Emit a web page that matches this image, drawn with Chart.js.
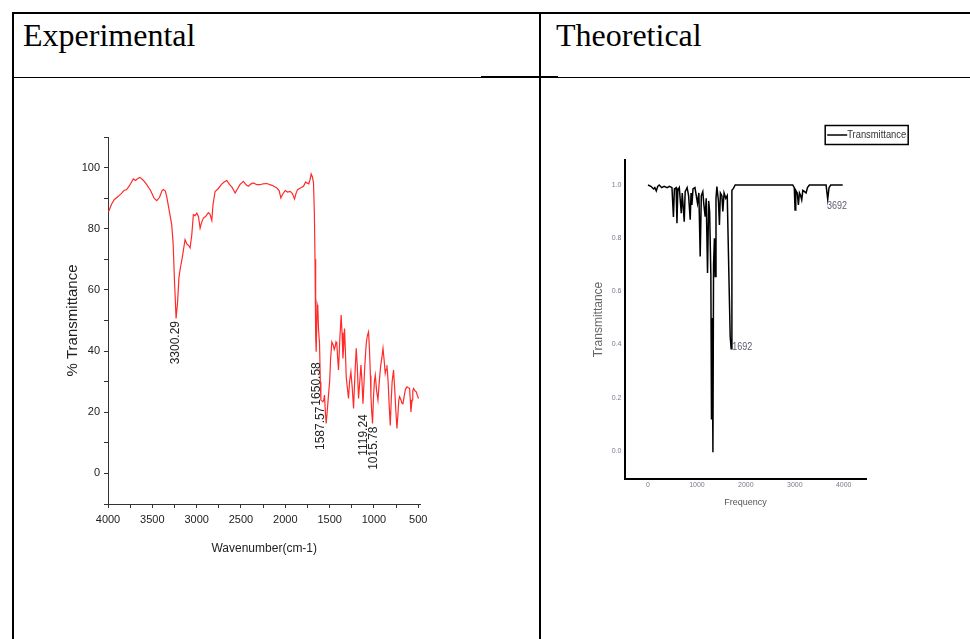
<!DOCTYPE html>
<html>
<head>
<meta charset="utf-8">
<script src="https://cdn.jsdelivr.net/npm/chart.js@4.4.1/dist/chart.umd.min.js"></script>
<style>
  body { margin: 0; background: #fff; width: 970px; height: 639px; position: relative; overflow: hidden; }
  .ln { position: absolute; background: #000; }
  .head { position: absolute; font-family: 'Liberation Serif', 'Times New Roman', serif; font-size: 32px; line-height: 32px; color: #000; }
  canvas { position: absolute; }
</style>
</head>
<body>
<!-- table lines -->
<div class="ln" style="left:12px;top:12px;width:958px;height:2px"></div>
<div class="ln" style="left:12px;top:12px;width:2px;height:627px"></div>
<div class="ln" style="left:539px;top:12px;width:2px;height:627px"></div>
<div class="ln" style="left:12px;top:77px;width:958px;height:1px"></div>
<div class="ln" style="left:481px;top:76px;width:77px;height:2px"></div>

<div class="head" style="left:23px;top:19px">Experimental</div>
<div class="head" style="left:556px;top:19px">Theoretical</div>

<canvas id="chart1" width="400" height="470" style="left:40px;top:110px"></canvas>
<canvas id="chart2" width="400" height="420" style="left:560px;top:115px"></canvas>

<script>
// experimental IR spectrum (wavenumber, % transmittance)
const expWn = [3995, 3960, 3930, 3884, 3850, 3820, 3789, 3760, 3714, 3690, 3660, 3639, 3600, 3563, 3520, 3480, 3450, 3420, 3390, 3376,
  3355, 3338, 3310, 3281, 3265, 3250, 3232, 3215, 3200, 3187, 3160, 3131, 3110, 3090, 3074, 3055, 3037, 3018, 2998, 2980,
  2961, 2945, 2924, 2900, 2868, 2850, 2829, 2815, 2792, 2760, 2720, 2690, 2660, 2630, 2600, 2566, 2540, 2510, 2472, 2440,
  2416, 2390, 2360, 2320, 2284, 2250, 2208, 2150, 2095, 2070, 2050, 2030, 2001, 1975, 1945, 1920, 1896, 1880, 1862, 1830,
  1795, 1770, 1757, 1735, 1720, 1708, 1695, 1682, 1672, 1665, 1660, 1655, 1652, 1640, 1633, 1625, 1614, 1605, 1599, 1590,
  1576, 1566, 1558, 1548, 1539, 1528, 1513, 1500, 1488, 1475, 1460, 1448, 1438, 1428, 1419, 1410, 1400, 1385, 1370, 1360,
  1350, 1340, 1332, 1322, 1313, 1300, 1287, 1275, 1260, 1245, 1230, 1215, 1200, 1188, 1174, 1160, 1147, 1135, 1124, 1115,
  1106, 1095, 1087, 1075, 1061, 1050, 1040, 1034, 1025, 1016, 1005, 995, 985, 970, 955, 940, 925, 910, 898, 885,
  873, 864, 854, 840, 828, 816, 805, 795, 779, 765, 752, 741, 730, 720, 711, 695, 685, 673, 660, 645,
  628, 612, 598, 590, 583, 570, 562, 553, 538, 523, 510, 497];
const expT = [85.5, 88, 89.5, 90.6, 91.5, 92.5, 92.8, 94, 96.3, 95.8, 96.5, 96.8, 95.8, 94.4, 92.5, 90, 89.2, 90.2, 92.5, 92.8,
  92.4, 90.6, 86, 81.3, 75, 63, 50.7, 56, 64, 66.6, 71, 76.4, 75, 74.5, 73.7, 78, 84.6, 84.3, 85.1, 84,
  80.2, 82, 83.5, 84, 85.3, 84.8, 82.7, 88, 92.2, 93, 94.5, 95.3, 95.8, 94.5, 93.5, 91.7, 93, 94.5, 95.5, 94.3,
  93.9, 94.6, 95, 94.4, 94.4, 94.7, 94.8, 94.2, 93.3, 92.5, 90.1, 91.3, 92.5, 92, 92.2, 91.5, 89.7, 91.5, 92.8, 93.3,
  93.9, 95.3, 95, 94.7, 96.2, 97.9, 97, 95, 85, 70, 57, 45, 39.8, 55.1, 54, 47, 42.5, 30, 24, 23.8,
  23.4, 24, 25.6, 20, 16.3, 20, 25.6, 30, 38, 43, 42, 40.5, 41.4, 43, 42.5, 38, 33.8, 44, 51.8, 46,
  37.6, 42, 47.4, 40, 31.6, 28, 24.5, 30, 33.2, 28, 21.2, 32, 40.9, 35, 24.5, 30, 35.4, 30, 22.8, 28,
  33.8, 39, 42.5, 45, 46.3, 40, 32, 25.1, 20, 16.3, 25, 30, 32.1, 27, 24, 30, 35, 38, 40.9, 37,
  32.7, 34, 35.4, 30, 22, 15.7, 24, 30, 33.8, 27, 20, 14.7, 19, 24, 25.1, 24, 23, 22.8, 25, 27.5,
  28.3, 28, 27.8, 24, 20.1, 24, 27, 27.8, 27, 26.7, 25.5, 24.5];
const expPeakText = ['3300.29', '1650.58', '1587.57', '1119.24', '1015.78'];
const expPeakWn = [3232, 1643, 1599, 1121, 1005];
const expPeakT = [50.5, 37, 22.5, 20, 16];
const expXTicks = [4000, 3750, 3500, 3250, 3000, 2750, 2500, 2250, 2000, 1750, 1500, 1250, 1000, 750, 500];
const expXLabels = [4000, 3500, 3000, 2500, 2000, 1500, 1000, 500];
const expYTicks = [-10, 0, 10, 20, 30, 40, 50, 60, 70, 80, 90, 100, 110];
const expYLabels = [0, 20, 40, 60, 80, 100];

// theoretical (computed) spectrum (frequency, transmittance)
const thFreq = [0, 60, 115, 140, 170, 200, 230, 280, 330, 390, 440, 490, 520, 540, 575, 592, 610, 640, 680, 700,
  741, 760, 800, 830, 863, 880, 898, 920, 960, 1012, 1040, 1067, 1090, 1120, 1140, 1169, 1190, 1217, 1240, 1260,
  1285, 1298, 1312, 1327, 1340, 1358, 1373, 1390, 1408, 1440, 1460, 1480, 1510, 1530, 1555, 1590, 1620, 1659, 1680, 1700,
  1715, 1747, 1782, 2959, 2990, 3006, 3020, 3050, 3074, 3095, 3120, 3142, 3165, 3200, 3231, 3260, 3299, 3640, 3673, 3700,
  3735, 3980];
const thT = [1.0, 0.995, 0.985, 0.99, 0.978, 0.995, 1.0, 0.99, 0.995, 0.99, 0.995, 0.99, 0.88, 0.985, 0.99, 0.856, 0.98, 0.99, 0.894, 0.97,
  0.862, 0.975, 0.99, 0.96, 0.869, 0.97, 0.925, 0.985, 0.99, 0.931, 0.97, 0.731, 0.96, 0.975, 0.93, 0.881, 0.95, 0.669, 0.94, 0.9,
  0.66, 0.118, 0.5, -0.005, 0.7, 0.8, 0.656, 0.95, 0.994, 0.94, 0.85, 0.97, 0.96, 0.9, 0.97, 0.95, 0.96, 0.612, 0.43, 0.384,
  0.98, 0.987, 1.0, 1.0, 0.99, 0.906, 0.98, 0.97, 0.925, 0.97, 0.96, 0.944, 0.98, 0.975, 0.97, 0.99, 1.0, 1.0, 0.946, 0.99,
  1.0, 1.0];
const thPeakText = ['1692', '3692'];
const thPeakF = [1700, 3640];
const thPeakT = [0.39, 0.92];
const thXTicks = [0, 1000, 2000, 3000, 4000];
const thYTicks = [0, 0.2, 0.4, 0.6, 0.8, 1.0];

const sans = "'Liberation Sans', Arial, sans-serif";
Chart.defaults.font.family = sans;
Chart.defaults.color = '#222';

// rotated peak labels on the experimental spectrum
const expPeakPlugin = {
  id: 'expPeaks',
  afterDatasetsDraw(chart) {
    const ctx = chart.ctx;
    const xs = chart.scales.x, ys = chart.scales.y;
    ctx.save();
    ctx.font = '12px ' + sans;
    ctx.fillStyle = '#222';
    ctx.textAlign = 'right';
    ctx.textBaseline = 'middle';
    expPeakText.forEach(function(t, i) {
      ctx.save();
      ctx.translate(xs.getPixelForValue(expPeakWn[i]), ys.getPixelForValue(expPeakT[i]) + 2);
      ctx.rotate(-Math.PI / 2);
      ctx.fillText(t, 0, 0);
      ctx.restore();
    });
    ctx.restore();
  }
};

// peak labels and boxed legend on the theoretical spectrum
const thExtrasPlugin = {
  id: 'thExtras',
  afterDatasetsDraw(chart) {
    const ctx = chart.ctx;
    const xs = chart.scales.x, ys = chart.scales.y;
    ctx.save();
    ctx.font = '11px ' + sans;
    ctx.fillStyle = '#5a5a70';
    ctx.textAlign = 'left';
    ctx.textBaseline = 'middle';
    thPeakText.forEach(function(t, i) {
      ctx.fillText(t, xs.getPixelForValue(thPeakF[i]) + 1, ys.getPixelForValue(thPeakT[i]), 20);
    });
    // legend
    const lx = chart.chartArea.right - 41.5, ly = 10.5;
    ctx.strokeStyle = '#000';
    ctx.lineWidth = 1.5;
    ctx.strokeRect(lx, ly, 83, 19);
    ctx.beginPath();
    ctx.moveTo(lx + 2, ly + 9.5);
    ctx.lineTo(lx + 22, ly + 9.5);
    ctx.stroke();
    ctx.fillStyle = '#333';
    ctx.font = '11px ' + sans;
    ctx.fillText(chart.data.datasets[0].label, lx + 22, ly + 9.5, 59);
    ctx.restore();
  }
};

new Chart(document.getElementById('chart1'), {
  type: 'line',
  data: {
    datasets: [{
      label: '% Transmittance',
      data: expWn.map(function(w, i) { return {x: w, y: expT[i]}; }),
      borderColor: '#ff2a2a',
      borderWidth: 1.2,
      pointRadius: 0,
      tension: 0
    }]
  },
  options: {
    responsive: false,
    animation: false,
    layout: { padding: {left: 0, top: 27, right: 19.5, bottom: 0} },
    plugins: { legend: {display: false}, tooltip: {enabled: false} },
    scales: {
      x: {
        type: 'linear',
        reverse: true,
        min: 475,
        max: 4000,
        afterBuildTicks: function(s) { s.ticks = expXTicks.map(function(v) { return {value: v}; }); },
        afterFit: function(s) { s.height = 76; },
        grid: {display: true, drawOnChartArea: false, tickLength: 4, tickColor: '#333'},
        border: {display: true, color: '#333', width: 1},
        ticks: {
          font: {size: 11},
          color: '#222',
          padding: 5,
          maxRotation: 0,
          autoSkip: false,
          callback: function(v) { return expXLabels.includes(v) ? String(v) : ''; }
        },
        title: {display: true, text: 'Wavenumber(cm-1)', font: {size: 12}, color: '#222', padding: {top: 0, bottom: 24}}
      },
      y: {
        min: -10,
        max: 110,
        afterBuildTicks: function(s) { s.ticks = expYTicks.map(function(v) { return {value: v}; }); },
        afterFit: function(s) { s.width = 68; },
        grid: {display: true, drawOnChartArea: false, tickLength: 4, tickColor: '#333'},
        border: {display: true, color: '#333', width: 1},
        ticks: {
          font: {size: 11},
          color: '#222',
          padding: 4,
          autoSkip: false,
          callback: function(v) { return expYLabels.includes(v) ? String(v) : ''; }
        },
        title: {display: true, text: '% Transmittance', font: {size: 15}, color: '#222', padding: {top: 24, bottom: 0}}
      }
    }
  },
  plugins: [expPeakPlugin]
});

new Chart(document.getElementById('chart2'), {
  type: 'line',
  data: {
    datasets: [{
      label: 'Transmittance',
      data: thFreq.map(function(f, i) { return {x: f, y: thT[i]}; }),
      borderColor: '#000',
      borderWidth: 1.5,
      pointRadius: 0,
      tension: 0
    }]
  },
  options: {
    responsive: false,
    animation: false,
    layout: { padding: {left: 0, top: 45, right: 93.3, bottom: 0} },
    plugins: { legend: {display: false}, tooltip: {enabled: false} },
    scales: {
      x: {
        type: 'linear',
        min: -480,
        max: 4470,
        afterBuildTicks: function(s) { s.ticks = thXTicks.map(function(v) { return {value: v}; }); },
        afterFit: function(s) { s.height = 56; },
        grid: {display: false, drawTicks: false},
        border: {display: true, color: '#000', width: 2},
        ticks: {
          font: {size: 7},
          color: '#7a7a8c',
          padding: 2,
          maxRotation: 0,
          autoSkip: false,
          callback: function(v) { return String(v); }
        },
        title: {display: true, text: 'Frequency', font: {size: 9}, color: '#555', padding: {top: 0, bottom: 27}}
      },
      y: {
        min: -0.106,
        max: 1.094,
        afterBuildTicks: function(s) { s.ticks = thYTicks.map(function(v) { return {value: v}; }); },
        afterFit: function(s) { s.width = 64.5; },
        grid: {display: false, drawTicks: false},
        border: {display: true, color: '#000', width: 2},
        ticks: {
          font: {size: 7},
          color: '#7a7a8c',
          padding: 3,
          autoSkip: false,
          callback: function(v) { return v.toFixed(1); }
        },
        title: {display: true, text: 'Transmittance', font: {size: 12}, color: '#666', padding: {top: 31, bottom: 0}}
      }
    }
  },
  plugins: [thExtrasPlugin]
});
</script>
</body>
</html>
